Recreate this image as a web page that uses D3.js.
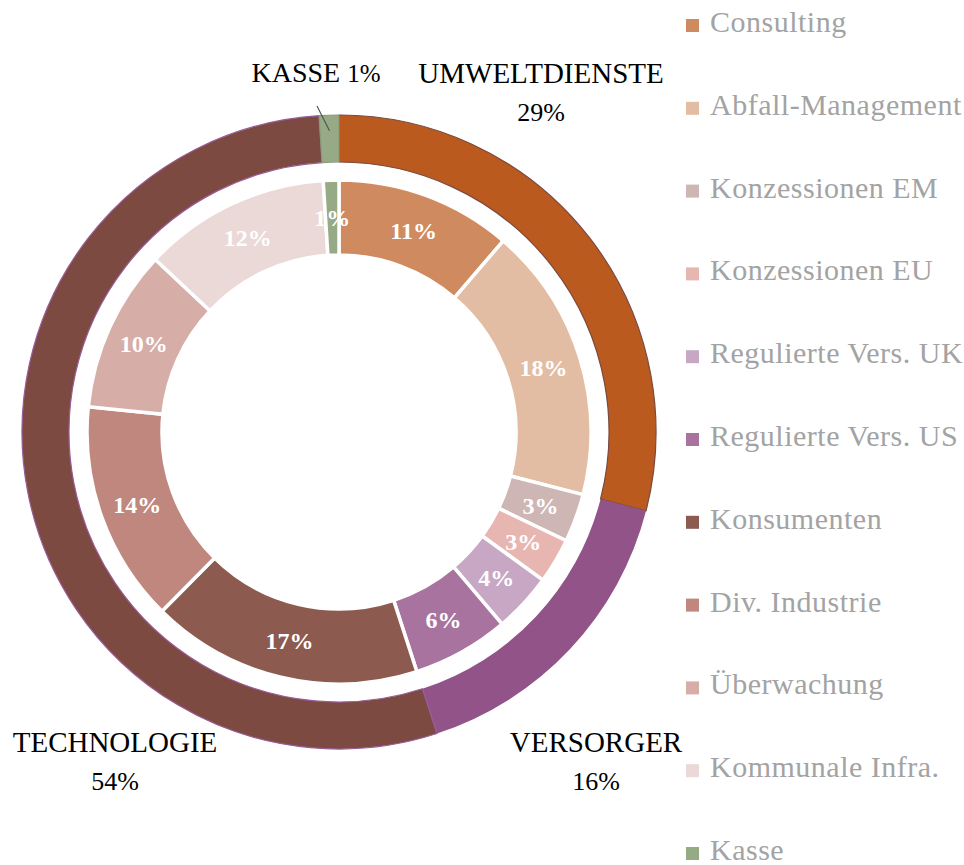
<!DOCTYPE html>
<html>
<head>
<meta charset="utf-8">
<script src="https://cdn.jsdelivr.net/npm/d3@7"></script>
<style>
  html, body { margin: 0; padding: 0; background: #ffffff; }
  svg { display: block; }
</style>
</head>
<body>
<svg id="chart" width="964" height="865"></svg>
<script>
// ---- Data ----
const innerCategories = ["Consulting", "Abfall-Management", "Konzessionen EM", "Konzessionen EU",
  "Regulierte Vers. UK", "Regulierte Vers. US", "Konsumenten", "Div. Industrie",
  "Überwachung", "Kommunale Infra.", "Kasse"];
const innerValues = [11.3, 17.7, 3.1, 2.9, 3.8, 6.2, 17.4, 14.2, 10.4, 12.0, 1.0];
const innerColors = ["#d08a5f", "#e3bda3", "#cdb6b3", "#e8b6b1", "#c8a7c5", "#a8749f",
  "#8c5a4f", "#c0877e", "#d6ada7", "#ead9d6", "#97aa86"];

const outerCategories = ["UMWELTDIENSTE", "VERSORGER", "TECHNOLOGIE", "KASSE"];
const outerValues = [29, 16, 54, 1];
const outerColors = ["#bb5a1f", "#925389", "#7d4a41", "#97aa86"];
const outerStrokes = ["#7a4a40", "none", "#9a5c98", "#8a9a7a"];

// ---- Layout ----
const svg = d3.select("#chart");
const cx = 339, cy = 432;
const R_out = 317, R_outIn = 270;
const R_inOut = 252, R_inIn = 177;

const pie = d3.pie().sort(null).value(d => d);

const g = svg.append("g").attr("transform", `translate(${cx},${cy})`);

// Outer ring
const outerArc = d3.arc().innerRadius(R_outIn).outerRadius(R_out);
const outerPie = pie(outerValues);
g.append("g").selectAll("path")
  .data(outerPie)
  .join("path")
  .attr("d", outerArc)
  .attr("fill", (d, i) => outerColors[i])
  .attr("stroke", (d, i) => outerStrokes[i])
  .attr("stroke-width", 1.2);

// Inner ring
const innerArc = d3.arc().innerRadius(R_inIn).outerRadius(R_inOut);
const innerPie = pie(innerValues);
const total = d3.sum(innerValues);
g.append("g").selectAll("path")
  .data(innerPie)
  .join("path")
  .attr("d", innerArc)
  .attr("fill", (d, i) => innerColors[i])
  .attr("stroke", "#ffffff")
  .attr("stroke-width", 3.5);

// Inner labels
g.append("g").selectAll("text")
  .data(innerPie)
  .join("text")
  .attr("transform", d => `translate(${innerArc.centroid(d)})`)
  .attr("text-anchor", "middle")
  .attr("dy", "0.35em")
  .attr("font-family", "'Liberation Serif', 'DejaVu Serif', serif")
  .attr("font-size", 24)
  .attr("font-weight", "bold")
  .attr("fill", "#ffffff")
  .text(d => Math.round(d.data / total * 100) + "%");

// Outer labels
const labelFont = "'Liberation Serif', 'DejaVu Serif', serif";
const outerLabelPos = [
  { x: 541, y1: 83, y2: 121, two: true },
  { x: 596, y1: 752, y2: 790, two: true },
  { x: 115, y1: 752, y2: 790, two: true },
  { x: 316, y1: 82, two: false }
];
const outerTotal = d3.sum(outerValues);
const outerLabels = svg.append("g")
  .attr("font-family", labelFont)
  .attr("fill", "#000000")
  .attr("text-anchor", "middle");
outerCategories.forEach((c, i) => {
  const p = outerLabelPos[i];
  const pct = Math.round(outerValues[i] / outerTotal * 100) + "%";
  if (p.two) {
    outerLabels.append("text").attr("x", p.x).attr("y", p.y1).attr("font-size", 29).text(c);
    outerLabels.append("text").attr("x", p.x).attr("y", p.y2).attr("font-size", 26).text(pct);
  } else {
    const t = outerLabels.append("text").attr("x", p.x).attr("y", p.y1);
    t.append("tspan").attr("font-size", 28).text(c + " ");
    t.append("tspan").attr("font-size", 25).text(pct);
  }
});

// Leader line for KASSE
const kasse = outerPie[3];
const kMid = (kasse.startAngle + kasse.endAngle) / 2;
const lineR = (R_out + R_outIn) / 2 + 8;
svg.append("line")
  .attr("x1", 317).attr("y1", 106)
  .attr("x2", cx + lineR * Math.sin(kMid)).attr("y2", cy - lineR * Math.cos(kMid))
  .attr("stroke", "#555555")
  .attr("stroke-width", 1.2);

// Legend
const legendY = d3.scalePoint().domain(innerCategories).range([32, 860]);
const legend = svg.append("g");
const rows = legend.selectAll("g")
  .data(innerCategories)
  .join("g")
  .attr("transform", d => `translate(686,${legendY(d)})`);
rows.append("rect")
  .attr("x", 0).attr("y", -13)
  .attr("width", 13).attr("height", 13)
  .attr("fill", (d, i) => innerColors[i]);
rows.append("text")
  .attr("x", 24).attr("y", 0)
  .attr("font-family", labelFont)
  .attr("font-size", 30)
  .attr("letter-spacing", 0.5)
  .attr("fill", "#a3a3a3")
  .text(d => d);
</script>
</body>
</html>
